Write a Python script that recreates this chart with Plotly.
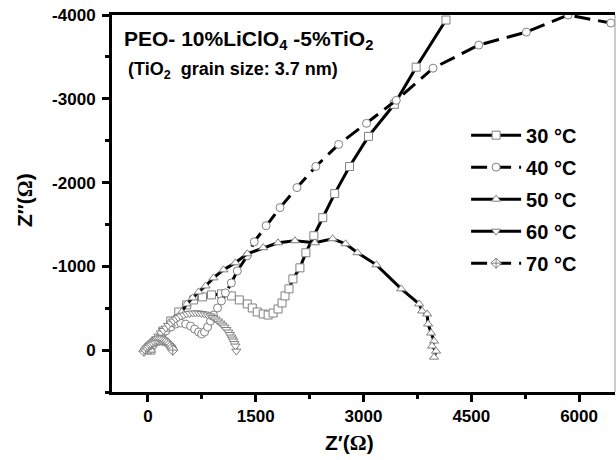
import plotly.graph_objects as go

# ---- data (Z' in ohm, Z'' in ohm) ----
z30_re = [41, 111, 207, 318, 429, 539, 636, 760, 885, 1023, 1161, 1272, 1383, 1452, 1521, 1604, 1673, 1742,
          1811, 1866, 1908, 1963, 2018, 2115, 2198, 2309, 2433, 2599, 2806, 3069, 3429, 3733, 4148]
z30_im = [0, -108, -228, -347, -455, -539, -599, -635, -659, -671, -647, -599, -551, -503, -455, -431, -419, -443,
          -491, -563, -647, -731, -850, -982, -1162, -1365, -1581, -1868, -2192, -2551, -2934, -3377, -3940]

z40_re = [14, 69, 124, 180, 249, 318, 387, 456, 525, 594, 650, 705, 747, 788, 830, 871, 912, 968, 1023, 1078,
          1161, 1244, 1383, 1479, 1645, 1839, 2074, 2336, 2654, 3042, 3456, 3968, 4604, 5267, 5848, 6442]
z40_im = [0, -60, -120, -168, -228, -275, -311, -323, -311, -287, -251, -216, -192, -216, -275, -347, -419, -503,
          -587, -683, -802, -946, -1126, -1293, -1485, -1701, -1940, -2192, -2455, -2707, -2982, -3365, -3641,
          -3796, -4000, -3904]

z50_re = [41, 69, 111, 180, 249, 318, 387, 470, 539, 622, 705, 802, 912, 1051, 1217, 1383, 1604, 1811, 2046,
          2323, 2571, 2751, 2917, 3180, 3525, 3774, 3816, 3885, 3899, 3940, 3982, 3954, 4010, 3982]
z50_im = [0, -72, -132, -192, -251, -311, -383, -455, -551, -623, -695, -766, -862, -958, -1042, -1150, -1222,
          -1281, -1305, -1281, -1329, -1269, -1162, -1018, -731, -551, -467, -431, -311, -204, -108, -48, 12, 84]

z60_re = [41, 76, 111, 145, 180, 214, 249, 283, 318, 352, 387, 421, 456, 497, 539, 580, 622, 663, 705, 746,
          788, 830, 871, 905, 940, 975, 1009, 1037, 1065, 1092, 1120, 1140, 1161, 1175, 1189, 1203, 1217, 1230]
z60_im = [-48, -90, -132, -168, -204, -234, -263, -293, -323, -347, -371, -389, -407, -419, -431, -437, -443,
          -443, -443, -437, -431, -419, -407, -389, -371, -347, -323, -299, -275, -246, -216, -186, -156, -132,
          -108, -78, -48, 12]

z70_re = [-55, -35, -14, 7, 28, 48, 69, 97, 124, 152, 180, 207, 235, 256, 277, 297, 318, 332, 346]
z70_im = [12, -12, -36, -54, -72, -84, -96, -108, -120, -120, -120, -114, -108, -96, -84, -66, -48, -24, 0]

series_names = ["30 °C", "40 °C", "50 °C", "60 °C", "70 °C"]
series_re = [z30_re, z40_re, z50_re, z60_re, z70_re]
series_im = [z30_im, z40_im, z50_im, z60_im, z70_im]
symbols = ["square", "circle", "triangle-up", "triangle-down", "diamond-cross"]
dashes = ["solid", "16px,8px", "solid", "solid", "16px,8px"]

x_tickvals = [0, 1500, 3000, 4500, 6000]
x_ticktext = ["0", "1500", "3000", "4500", "6000"]
y_tickvals = [-4000, -3000, -2000, -1000, 0]
y_ticktext = ["-4000", "-3000", "-2000", "-1000", "0"]

FONT = "Liberation Sans, Arial, sans-serif"

fig = go.Figure()
for i, (name, xs, ys, sym, dash) in enumerate(zip(series_names, series_re, series_im, symbols, dashes)):
    fig.add_trace(go.Scatter(
        x=xs, y=ys, name=name, mode="lines+markers", legendgroup=f"g{i}",
        line=dict(color="black", width=3, dash=dash),
        marker=dict(symbol=sym, size=8, color="white", line=dict(color="#808080", width=1)),
    ))

fig.update_layout(
    width=616, height=460,
    margin=dict(l=112, r=1, t=15, b=68),
    paper_bgcolor="white", plot_bgcolor="white",
    font=dict(family=FONT, color="black"),
    showlegend=True,
    legend=dict(x=0.704, y=0.733, xanchor="left", yanchor="top", bgcolor="rgba(0,0,0,0)",
                font=dict(size=20, family=FONT, weight="bold"), tracegroupgap=3, itemwidth=50),
    xaxis=dict(range=[-500, 6500], showgrid=False, zeroline=False,
               showline=True, linecolor="black", linewidth=3, mirror=True,
               ticks="outside", ticklen=7, tickwidth=3, tickcolor="black",
               tickvals=x_tickvals, ticktext=x_ticktext, ticklabelstandoff=0,
               tickfont=dict(size=17, family=FONT, weight="bold"),
               minor=dict(ticks="outside", ticklen=4, tickwidth=3, tickcolor="black", dtick=750, tick0=0)),
    yaxis=dict(range=[500, -4000], showgrid=False, zeroline=False,
               showline=True, linecolor="black", linewidth=3,
               ticks="outside", ticklen=7, tickwidth=3, tickcolor="black",
               tickvals=y_tickvals, ticktext=y_ticktext, ticklabelstandoff=3,
               tickfont=dict(size=17, family=FONT, weight="bold"),
               minor=dict(ticks="outside", ticklen=4, tickwidth=3, tickcolor="black", dtick=500, tick0=0)),
)

fig.add_shape(type="line", xref="paper", yref="paper", x0=1, x1=1, y0=0, y1=1,
              line=dict(color="#999999", width=1))

fig.add_annotation(xref="paper", yref="paper", x=0.02, y=0.934, xanchor="left", yanchor="middle",
                   text="PEO- 10%LiClO<sub>4</sub> -5%TiO<sub>2</sub>", showarrow=False,
                   font=dict(size=21, family=FONT, weight="bold"))
fig.add_annotation(xref="paper", yref="paper", x=0.028, y=0.854, xanchor="left", yanchor="middle",
                   text="(TiO<sub>2</sub>  grain size: 3.7 nm)", showarrow=False,
                   font=dict(size=18, family=FONT, weight="bold"))
fig.add_annotation(xref="paper", yref="paper", x=0.473, y=-0.135, xanchor="center", yanchor="middle",
                   text="Z′(<span style='font-family:Liberation Serif'>Ω</span>)", showarrow=False,
                   font=dict(size=21, family=FONT, weight="bold"))
fig.add_annotation(xref="paper", yref="paper", x=-0.173, y=0.509, xanchor="center", yanchor="middle",
                   text="Z″(<span style='font-family:Liberation Serif'>Ω</span>)", showarrow=False,
                   textangle=-90, font=dict(size=21, family=FONT, weight="bold"))

# remove the default 8px page margin so the figure fills the window exactly
fig.write_html("out.html", config={"displayModeBar": False},
               post_script="document.body.style.margin='0px';")
